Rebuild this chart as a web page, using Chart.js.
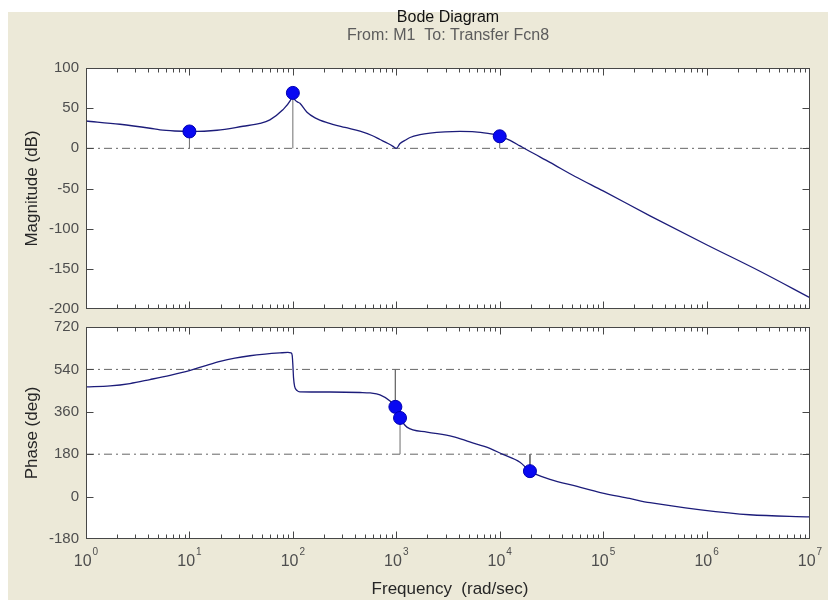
<!DOCTYPE html>
<html>
<head>
<meta charset="utf-8">
<script src="https://cdn.jsdelivr.net/npm/chart.js@4/dist/chart.umd.min.js"></script>
<style>
  html, body { margin: 0; padding: 0; background: #ffffff; }
  #wrap { position: relative; width: 828px; height: 603px; background: #ffffff; overflow: hidden; }
  #panel { position: absolute; left: 8px; top: 12px; right: 0; bottom: 3px; background: #ece9d8; }
  canvas { position: absolute; left: 0; top: 0; }
</style>
</head>
<body>
<div id="wrap">
  <div id="panel"></div>
  <canvas id="magChart" width="828" height="603"></canvas>
  <canvas id="phaseChart" width="828" height="603"></canvas>
</div>
<script>
// Frequency range of both panels (rad/sec)
const freqRange = [1, 1e7];
const decadeExponents = [0, 1, 2, 3, 4, 5, 6, 7];

// Magnitude response (dB)
const magFreq = [1, 2.13, 4.16, 5.2, 7.2, 10, 18.5, 33, 48, 60, 80, 94, 97, 100, 103, 110, 117, 137, 164, 214, 319, 446, 582, 696, 832, 930, 1000,
                 1087, 1219, 1359, 1695, 2118, 2958, 4130, 5770, 7710, 9000, 1e4, 1.26e4, 1.57e4, 1.96e4, 3.06e4, 5.35e4, 1e5, 2.84e5, 1e6, 3.28e6, 1e7];
const magDb   = [34, 30, 25, 23, 21.6, 21, 22.5, 27.5, 31, 35.5, 48, 59, 63, 69, 62, 58, 56, 45, 38, 32, 26, 21.5, 16, 11, 6, 2.5, 0,
                 6, 10, 13.5, 17, 19, 20.5, 21, 20.5, 18.5, 17, 15, 10, 3, -4, -17.5, -35, -53, -84, -120, -153, -186];

// Phase response (deg)
const phaseFreq = [1, 1.71, 2.66, 4.16, 6.5, 10, 14.1, 19.8, 27.5, 38.5, 53.8, 75, 89.5, 96, 98.5, 100, 101.5, 104, 110, 117, 228, 446, 559, 696, 870,
                   980, 1087, 1267, 1977, 3530, 5130, 8020, 1.06e4, 1.57e4, 1.96e4, 3.06e4, 5.6e4, 9.4e4, 1.8e5, 2.84e5, 8.8e5, 2.6e6, 1e7];
const phaseDeg  = [466, 470, 480, 497, 515, 535, 555, 574, 588, 598, 605, 610, 612, 610, 600, 560, 505, 468, 450, 445, 444, 442, 440, 432, 406,
                   381, 334, 295, 274, 255, 232, 205, 180, 146, 108, 73, 43, 17, -8, -26, -56, -77, -86];

// Stability margin markers
const gainMarginFreq = [10, 100, 1e4];
const gainMarginDb   = [21, 69, 15];
const phaseMarginFreq = [980, 1087, 1.96e4];
const phaseMarginDeg  = [381, 334, 108];
const phaseMarginRef  = [540, 180, 180];

// Reference (dash-dot) levels
const magRefDb = [0];
const phaseRefDeg = [180, 540];

// Axis ticks
const magTicks = [-200, -150, -100, -50, 0, 50, 100];
const phaseTicks = [-180, 0, 180, 360, 540, 720];

const FONT = '"Liberation Sans", Arial, Helvetica, sans-serif';
const CURVE = '#1c1c7a';
const MARK_FILL = '#0808f2';
const MARK_EDGE = '#0000b4';
const STEM = '#6e6e6e';
const REF = '#666666';
const FRAME = '#474747';
const TICK_TEXT = '#4e4e4e';
const LABEL_TEXT = '#262626';

Chart.defaults.font.family = FONT;

function pts(xs, ys) { return xs.map((x, i) => ({ x: x, y: ys[i] })); }

function curveSet(xs, ys) {
  return { data: pts(xs, ys), borderColor: CURVE, borderWidth: 1.3, pointRadius: 0,
           cubicInterpolationMode: 'monotone', order: 1 };
}
function markerSet(xs, ys) {
  return { data: pts(xs, ys), showLine: false, pointRadius: 6.5, pointHoverRadius: 6.5,
           pointBackgroundColor: MARK_FILL, pointBorderColor: MARK_EDGE, pointBorderWidth: 1, order: 0 };
}
function stemSets(xs, base, ys) {
  return xs.map((f, i) => ({ data: [{ x: f, y: base[i] }, { x: f, y: ys[i] }], borderColor: STEM,
           borderWidth: 1, pointRadius: 0, order: 2 }));
}
function refSets(levels) {
  return levels.map(v => ({ data: [{ x: freqRange[0], y: v }, { x: freqRange[1], y: v }], borderColor: REF,
           borderWidth: 1, borderDash: [8, 4, 2, 4], pointRadius: 0, order: 3 }));
}

// White axes background, box around the axes and inward tick marks
const framePlugin = {
  id: 'frame',
  beforeDatasetsDraw(chart) {
    const { ctx, chartArea: a } = chart;
    ctx.save();
    ctx.fillStyle = '#ffffff';
    ctx.fillRect(a.left, a.top, a.right - a.left, a.bottom - a.top);
    ctx.restore();
  },
  afterDatasetsDraw(chart) {
    const { ctx, chartArea: a, scales } = chart;
    const xs = scales.x, ys = scales.y;
    const L = Math.round(a.left) + 0.5, R = Math.round(a.right) - 0.5;
    const T = Math.round(a.top) + 0.5, B = Math.round(a.bottom) - 0.5;
    ctx.save();
    ctx.strokeStyle = FRAME;
    ctx.lineWidth = 1;
    ctx.beginPath();
    for (let e = 0; e < 7; e++) {
      for (let m = 1; m < 10; m++) {
        const v = m * Math.pow(10, e);
        if (v <= freqRange[0] || v >= freqRange[1]) continue;
        const px = Math.round(xs.getPixelForValue(v)) + 0.5;
        const len = m === 1 ? 7 : 4;
        ctx.moveTo(px, B); ctx.lineTo(px, B - len);
        ctx.moveTo(px, T); ctx.lineTo(px, T + len);
      }
    }
    ys.ticks.forEach(t => {
      if (t.value <= ys.min || t.value >= ys.max) return;
      const py = Math.round(ys.getPixelForValue(t.value)) + 0.5;
      ctx.moveTo(L, py); ctx.lineTo(L + 7, py);
      ctx.moveTo(R, py); ctx.lineTo(R - 7, py);
    });
    ctx.stroke();
    ctx.strokeRect(L, T, R - L, B - T);
    ctx.restore();
  }
};

function yTitle(ctx, text, cx, cy) {
  ctx.save();
  ctx.translate(cx, cy);
  ctx.rotate(-Math.PI / 2);
  ctx.font = '17px ' + FONT;
  ctx.fillStyle = LABEL_TEXT;
  ctx.textAlign = 'center';
  ctx.textBaseline = 'middle';
  ctx.fillText(text, 0, 0);
  ctx.restore();
}

const magText = {
  id: 'magText',
  afterDraw(chart) {
    const { ctx, chartArea: a } = chart;
    const cx = (a.left + a.right) / 2;
    ctx.save();
    ctx.textAlign = 'center';
    ctx.textBaseline = 'middle';
    ctx.font = '16px ' + FONT;
    ctx.fillStyle = '#111111';
    ctx.fillText('Bode Diagram', cx, 18);
    ctx.fillStyle = '#5c5c5c';
    ctx.fillText('From: M1  To: Transfer Fcn8', cx, 36);
    ctx.restore();
    yTitle(ctx, 'Magnitude (dB)', 32, (a.top + a.bottom) / 2);
  }
};

const phaseText = {
  id: 'phaseText',
  afterDraw(chart) {
    const { ctx, chartArea: a, scales } = chart;
    const xs = scales.x;
    ctx.save();
    ctx.fillStyle = TICK_TEXT;
    decadeExponents.forEach(e => {
      const px = xs.getPixelForValue(Math.pow(10, e));
      ctx.font = '16px ' + FONT;
      const wBase = ctx.measureText('10').width;
      ctx.font = '10px ' + FONT;
      const wExp = ctx.measureText(String(e)).width;
      const left = px - (wBase + 1 + wExp) / 2;
      ctx.textAlign = 'left';
      ctx.textBaseline = 'alphabetic';
      ctx.font = '16px ' + FONT;
      ctx.fillText('10', left, a.bottom + 27);
      ctx.font = '10px ' + FONT;
      ctx.fillText(String(e), left + wBase + 1, a.bottom + 16);
    });
    ctx.font = '17px ' + FONT;
    ctx.fillStyle = LABEL_TEXT;
    ctx.textAlign = 'center';
    ctx.textBaseline = 'middle';
    ctx.fillText('Frequency  (rad/sec)', (a.left + a.right) / 2 + 2, a.bottom + 50);
    ctx.restore();
    yTitle(ctx, 'Phase (deg)', 32, (a.top + a.bottom) / 2);
  }
};

function baseOptions(yTicks, pad) {
  return {
    responsive: false,
    animation: false,
    events: [],
    layout: { padding: pad },
    plugins: { legend: { display: false }, tooltip: { enabled: false }, title: { display: false } },
    scales: {
      x: { type: 'logarithmic', min: freqRange[0], max: freqRange[1], display: false },
      y: {
        type: 'linear', min: yTicks[0], max: yTicks[yTicks.length - 1],
        grid: { display: false, drawTicks: false },
        border: { display: false },
        ticks: { color: TICK_TEXT, font: { size: 15, family: FONT }, padding: 7 },
        afterBuildTicks: s => { s.ticks = yTicks.map(v => ({ value: v })); },
        afterFit: s => { s.width = 86; }
      }
    }
  };
}

new Chart(document.getElementById('magChart'), {
  type: 'line',
  data: {
    datasets: [
      markerSet(gainMarginFreq, gainMarginDb),
      curveSet(magFreq, magDb),
      ...stemSets(gainMarginFreq, gainMarginFreq.map(() => magRefDb[0]), gainMarginDb),
      ...refSets(magRefDb)
    ]
  },
  options: baseOptions(magTicks, { left: 0, right: 18, top: 68, bottom: 294 }),
  plugins: [framePlugin, magText]
});

new Chart(document.getElementById('phaseChart'), {
  type: 'line',
  data: {
    datasets: [
      markerSet(phaseMarginFreq, phaseMarginDeg),
      curveSet(phaseFreq, phaseDeg),
      ...stemSets(phaseMarginFreq, phaseMarginRef, phaseMarginDeg),
      ...refSets(phaseRefDeg)
    ]
  },
  options: baseOptions(phaseTicks, { left: 0, right: 18, top: 327, bottom: 64 }),
  plugins: [framePlugin, phaseText]
});
</script>
</body>
</html>
